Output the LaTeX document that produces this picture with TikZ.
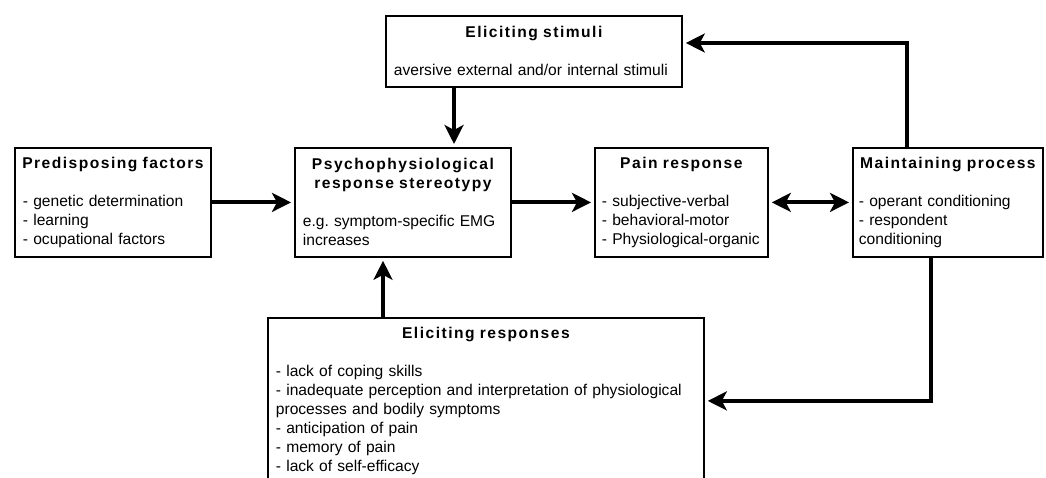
\documentclass[tikz,border=0pt]{standalone}
\usepackage{fontspec}
\setmainfont{Liberation Sans}
\newfontfamily\headfont[LetterSpace=9.5]{Liberation Sans}
\usepackage{tikz}
\usetikzlibrary{arrows.meta}

\newcommand{\boxhead}[1]{{\noindent\makebox[\linewidth]{\headfont\bfseries #1}\par}}

\tikzset{
  box/.style={draw, line width=1.8pt, anchor=north west, inner xsep=8pt,
    inner ysep=0pt, align=left, font=\fontsize{15.6}{19}\selectfont},
  link/.style={line width=4pt, -{Stealth[length=19pt,width=19pt,inset=5pt]},
    shorten >=3pt},
  twoway/.style={line width=4pt,
    {Stealth[length=19pt,width=19pt,inset=5pt]}-{Stealth[length=19pt,width=19pt,inset=5pt]},
    shorten >=3pt, shorten <=3pt}
}

\begin{document}
\begin{tikzpicture}[x=1pt, y=-1pt]

  \useasboundingbox (0,0) rectangle (1046,478);

  % top box
  \node [box, text width=280pt, minimum height=71pt]  (stimuli)   at (385,  15)
    {\boxhead{Eliciting stimuli}\vskip 19pt
     aversive external and/or internal stimuli};

  % middle row
  \node [box, text width=180pt, minimum height=109pt] (predisp)   at (14,   147)
    {\boxhead{Predisposing factors}\vskip 19pt
     - genetic determination\\ - learning\\ - ocupational factors};
  \node [box, text width=200pt, minimum height=109pt] (stereo)    at (294,  147)
    {\boxhead{Psychophysiological}\boxhead{response stereotypy}\vskip 19pt
     e.g.\ symptom-specific EMG\\ increases};
  \node [box, text width=159pt, minimum height=109pt, inner xsep=7pt] (pain) at (594, 147)
    {\boxhead{Pain response}\vskip 19pt
     - subjective-verbal\\ - behavioral-motor\\ - Physiological-organic};
  \node [box, text width=178pt, minimum height=109pt, inner xsep=6pt] (maintain) at (852, 147)
    {\boxhead{Maintaining process}\vskip 19pt
     - operant conditioning\\ - respondent\\ conditioning};

  % bottom box (runs off the page)
  \node [box, text width=420pt, minimum height=166pt] (responses) at (267,  317)
    {\boxhead{Eliciting responses}\vskip 19pt
     - lack of coping skills\\
     - inadequate perception and interpretation of physiological\\
     processes and bodily symptoms\\
     - anticipation of pain\\
     - memory of pain\\
     - lack of self-efficacy};

  % turning points of the feedback lines
  \coordinate (stimx)  at (454, 0);
  \coordinate (respx)  at (383, 0);
  \coordinate (topx)   at (907, 43);
  \coordinate (botx)   at (931, 0);

  % arrows
  \draw [link]   (predisp)  -- (stereo);
  \draw [link]   (stereo)   -- (pain);
  \draw [twoway] (pain)     -- (maintain);
  \draw [link]   (stimuli.south -| stimx)   -- (stereo.north -| stimx);
  \draw [link]   (responses.north -| respx) -- (stereo.south -| respx);
  \draw [link]   (maintain.north -| topx)   -- (topx) -- (topx -| stimuli.east);
  \draw [link]   (maintain.south -| botx)   |- (responses.east);

\end{tikzpicture}
\end{document}
